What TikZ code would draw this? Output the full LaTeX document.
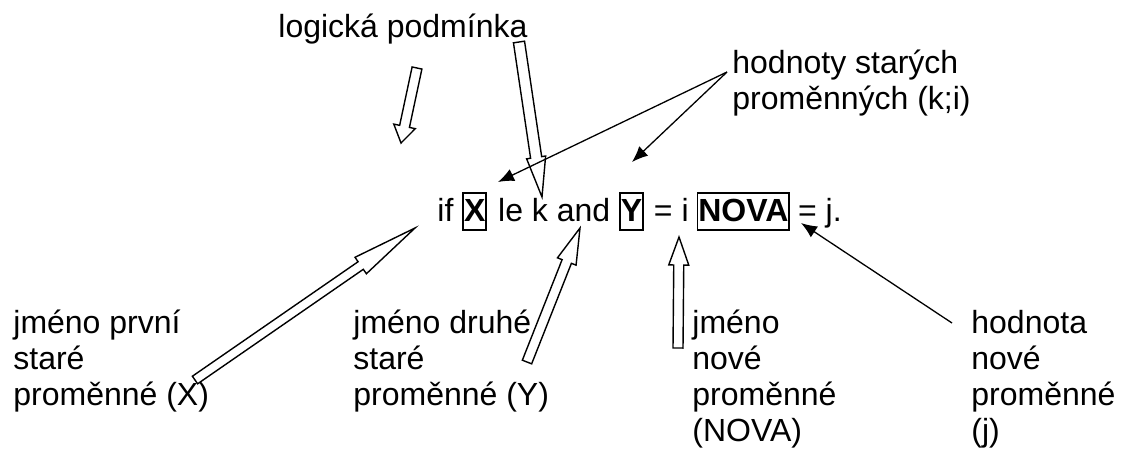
\documentclass[tikz,border=0pt]{standalone}
\usepackage{fontspec}
\setmainfont{Liberation Sans}
\usetikzlibrary{positioning,calc,arrows.meta}

% hollow block arrow: tail, tip, shaft half width, head half width, head length
\newcommand{\blockarrow}[5]{%
  \coordinate (bah) at ($(#2)!#5!(#1)$);
  \draw[blockarr] ($(#1)!#3!90:(#2)$) -- ($(bah)!#3!90:(#2)$) -- ($(bah)!#4!90:(#2)$) -- (#2)
    -- ($(bah)!#4!-90:(#2)$) -- ($(bah)!#3!-90:(#2)$) -- ($(#1)!#3!-90:(#2)$) -- cycle;
}

\begin{document}
\begin{tikzpicture}[x=0.5pt, y=-0.5pt,
    lbl/.style={anchor=base west, inner sep=0pt, align=left, font=\fontsize{16}{18}\selectfont},
    word/.style={inner sep=0pt, font=\fontsize{16}{18}\selectfont},
    varbox/.style={draw, line width=0.9pt, inner xsep=0.4pt, inner ysep=0pt,
      text height=14pt, text depth=4.5pt, font=\fontsize{16}{18}\selectfont\bfseries},
    blockarr/.style={draw=black, fill=white, line width=0.7pt, line join=miter},
    ptr/.style={line width=0.65pt, -{Latex[length=8pt,width=6.5pt]}}]
  \useasboundingbox (0,0) rectangle (1124,451);

  % the statement
  \node[word, anchor=base west] (if) at (437,221) {if};
  \node[varbox, base right=4.3pt of if] (vx) {X};
  \node[word, base right=5.3pt of vx] (lek) {le k and};
  \node[varbox, base right=4.3pt of lek] (vy) {Y};
  \node[word, base right=4.8pt of vy] (eqi) {= i};
  \node[varbox, base right=3.8pt of eqi] (nova) {NOVA};
  \node[word, base right=3.8pt of nova] (eqj) {= j.};

  % labels (base = last line)
  \node[lbl] (logic) at (278,37) {logická podmínka};
  \node[lbl] (oldval) at (732,109) {hodnoty starých\\proměnných (k;i)};
  \node[lbl] (namex) at (13,405) {jméno první\\staré\\proměnné (X)};
  \node[lbl] (namey) at (353,405) {jméno druhé\\staré\\proměnné (Y)};
  \node[lbl] (namenew) at (692,441) {jméno\\nové\\proměnné\\(NOVA)};
  \node[lbl] (newval) at (971,441) {hodnota\\nové\\proměnné\\(j)};

  % arrow ends
  \coordinate (lg1) at (417,68);  \coordinate (lg1t) at (401,143);
  \coordinate (lg2) at (519,42);  \coordinate (lg2t) at (542,197);
  \coordinate (nx) at (195,380);  \coordinate (nxt) at (415,228);
  \coordinate (ny) at (527,362);  \coordinate (nyt) at (580,228);
  \coordinate (nn) at (678,348);  \coordinate (nnt) at (679,237);
  \coordinate (ov) at (727,72);   \coordinate (ovx) at (498,182);
  \coordinate (ovy) at (632,162);
  \coordinate (nv) at (952,323);  \coordinate (nvt) at (801,223);

  \blockarrow{lg1}{lg1t}{2.5pt}{5.5pt}{8.5pt}
  \blockarrow{lg2}{lg2t}{2.8pt}{4.8pt}{20pt}
  \blockarrow{nx}{nxt}{2.3pt}{5pt}{33pt}
  \blockarrow{ny}{nyt}{2.5pt}{5pt}{18pt}
  \blockarrow{nn}{nnt}{2.5pt}{5pt}{14pt}

  \draw[ptr] (ov) -- (ovx);
  \draw[ptr] (ov) -- (ovy);
  \draw[ptr] (nv) -- (nvt);
\end{tikzpicture}
\end{document}
